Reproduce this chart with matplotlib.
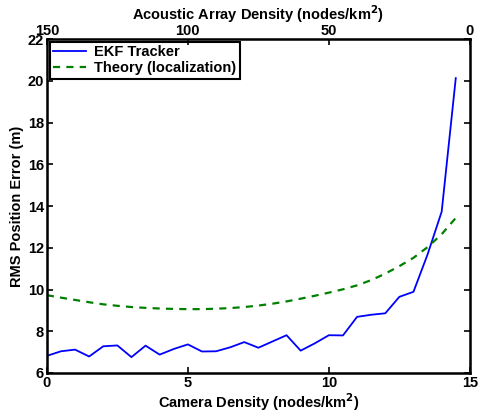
import matplotlib
matplotlib.use("Agg")
import matplotlib.pyplot as plt

plt.rcParams['font.family'] = ['Liberation Sans', 'DejaVu Sans']
plt.rcParams['font.weight'] = 'bold'
plt.rcParams['mathtext.default'] = 'bf'

camera_density = [0, 0.5, 1, 1.5, 2, 2.5, 3, 3.5, 4, 4.5, 5, 5.5, 6, 6.5, 7, 7.5,
                  8, 8.5, 9, 9.5, 10, 10.5, 11, 11.5, 12, 12.5, 13, 13.5, 14, 14.5]
ekf_error = [6.82, 7.04, 7.12, 6.79, 7.28, 7.32, 6.76, 7.31, 6.88, 7.15, 7.37, 7.03,
             7.04, 7.23, 7.48, 7.21, 7.51, 7.81, 7.07, 7.42, 7.81, 7.80, 8.69, 8.79,
             8.86, 9.65, 9.89, 11.68, 13.73, 20.13]
theory_error = [9.73, 9.61, 9.50, 9.39, 9.29, 9.22, 9.16, 9.12, 9.09, 9.07, 9.06, 9.06,
                9.08, 9.11, 9.16, 9.23, 9.32, 9.43, 9.56, 9.70, 9.85, 10.01, 10.20, 10.45,
                10.76, 11.12, 11.52, 12.03, 12.65, 13.43]

bottom_ticks = [0, 5, 10, 15]
left_ticks = [6, 8, 10, 12, 14, 16, 18, 20, 22]
top_ticks = [150, 100, 50, 0]

fs = 10.5
fig = plt.figure(figsize=(4.78, 4.16), dpi=100)
ax = fig.add_axes([0.098, 0.1034, 0.885, 0.8026])

ax.plot(camera_density, ekf_error, color='#0000ff', lw=1.3, label='EKF Tracker')
ax.plot(camera_density, theory_error, color='#008000', lw=1.6, ls=(0, (3.2, 2.8)),
        label='Theory (localization)')

ax.set_xlim(0, 15)
ax.set_ylim(6, 22)
ax.set_xticks(bottom_ticks)
ax.set_yticks(left_ticks)
ax.tick_params(direction='in', length=4, width=1.2, labelsize=fs, right=True,
               pad=2)
for s in ax.spines.values():
    s.set_linewidth(1.8)
ax.set_xlabel('Camera Density (nodes/km$^2$)', fontsize=fs, fontweight='bold', labelpad=1)
ax.set_ylabel('RMS Position Error (m)', fontsize=fs, fontweight='bold', labelpad=3)

ax2 = ax.twiny()
ax2.set_xlim(150, 0)
ax2.set_xticks(top_ticks)
ax2.tick_params(direction='in', length=4, width=1.2, labelsize=fs, pad=1)
ax2.set_xlabel('Acoustic Array Density (nodes/km$^2$)', fontsize=fs, fontweight='bold',
               labelpad=3)

leg = ax.legend(loc='upper left', bbox_to_anchor=(0.007, 0.992), fontsize=fs,
                fancybox=False, framealpha=1, edgecolor='black', borderpad=0.25,
                handlelength=2.2, handletextpad=0.6, labelspacing=0.1,
                borderaxespad=0)
leg.get_frame().set_linewidth(1.5)

fig.savefig('out.png', dpi=100)
